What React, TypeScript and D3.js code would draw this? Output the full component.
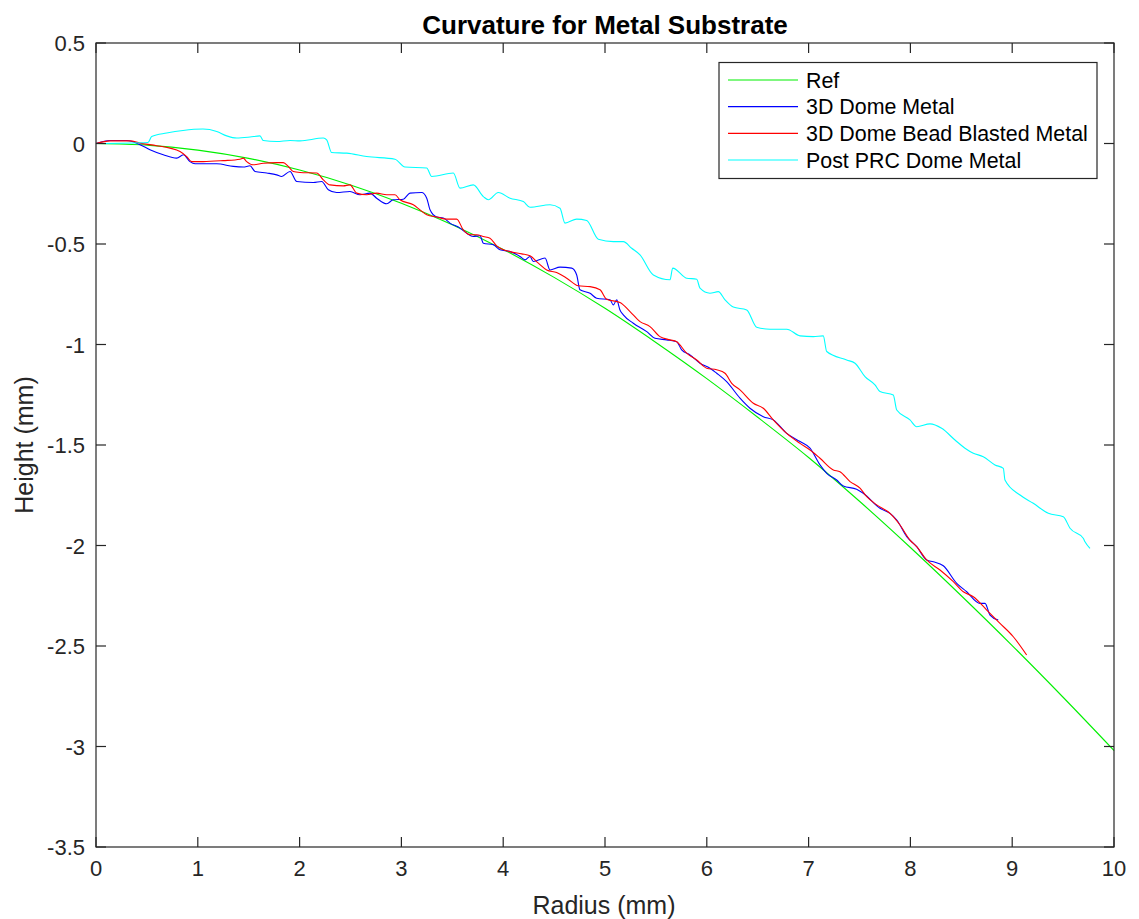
import React from "react";
import * as d3 from "d3";

const title = "Curvature for Metal Substrate";
const xLabel = "Radius (mm)";
const yLabel = "Height (mm)";
const xTicks = [0, 1, 2, 3, 4, 5, 6, 7, 8, 9, 10];
const yTicks = [0.5, 0, -0.5, -1, -1.5, -2, -2.5, -3, -3.5];
const seriesNames = ["Ref", "3D Dome Metal", "3D Dome Bead Blasted Metal", "Post PRC Dome Metal"];
const seriesColors = ["#00f000", "#0000ff", "#ff0000", "#00ffff"];

const refX = [0, 0.5, 1, 1.5, 2, 2.5, 3, 3.5, 4, 4.5, 5, 5.5, 6, 6.5, 7, 7.5, 8, 8.5, 9, 9.5, 10];
const refY = [0, -0.008, -0.033, -0.074, -0.132, -0.206, -0.297, -0.404, -0.527, -0.666, -0.82, -0.99, -1.17, -1.362, -1.562, -1.78, -2.01, -2.25, -2.498, -2.755, -3.02];

const blueX = [0, 0.138, 0.302, 0.432, 0.53, 0.661, 0.793, 0.858, 0.923, 0.973, 1.186, 1.349, 1.447, 1.513, 1.562, 1.677, 1.775, 1.824, 1.906, 1.972, 2.135, 2.217, 2.282, 2.364, 2.495, 2.593, 2.692, 2.757, 2.856, 2.92, 3.019, 3.084, 3.199, 3.249, 3.281, 3.347, 3.412, 3.477, 3.576, 3.641, 3.706, 3.772, 3.805, 3.903, 3.969, 4.067, 4.165, 4.214, 4.263, 4.296, 4.411, 4.46, 4.558, 4.673, 4.722, 4.754, 4.853, 4.918, 5.049, 5.082, 5.115, 5.147, 5.18, 5.278, 5.41, 5.491, 5.606, 5.704, 5.753, 5.835, 5.933, 6.031, 6.097, 6.195, 6.326, 6.424, 6.555, 6.653, 6.785, 6.916, 7.014, 7.112, 7.178, 7.276, 7.341, 7.472, 7.537, 7.701, 7.8, 7.866, 7.964, 8.062, 8.16, 8.225, 8.323, 8.455, 8.553, 8.684, 8.733, 8.782, 8.863];
const blueY = [0, 0.015, 0.015, -0.006, -0.031, -0.056, -0.073, -0.056, -0.09, -0.101, -0.101, -0.114, -0.117, -0.111, -0.139, -0.147, -0.156, -0.164, -0.139, -0.189, -0.194, -0.189, -0.23, -0.244, -0.239, -0.255, -0.247, -0.272, -0.3, -0.28, -0.277, -0.247, -0.244, -0.272, -0.33, -0.366, -0.371, -0.396, -0.421, -0.446, -0.463, -0.459, -0.496, -0.504, -0.529, -0.538, -0.562, -0.579, -0.562, -0.587, -0.57, -0.629, -0.615, -0.62, -0.654, -0.728, -0.745, -0.77, -0.778, -0.803, -0.778, -0.828, -0.853, -0.894, -0.936, -0.969, -0.977, -0.986, -1.027, -1.052, -1.093, -1.118, -1.143, -1.185, -1.267, -1.317, -1.359, -1.375, -1.442, -1.483, -1.516, -1.599, -1.641, -1.674, -1.704, -1.72, -1.74, -1.815, -1.84, -1.873, -1.956, -2.006, -2.072, -2.081, -2.101, -2.188, -2.23, -2.288, -2.288, -2.346, -2.371];

const redX = [0, 0.138, 0.334, 0.432, 0.596, 0.727, 0.825, 0.891, 0.94, 1.054, 1.25, 1.415, 1.447, 1.48, 1.545, 1.643, 1.775, 1.84, 1.889, 1.938, 2.004, 2.168, 2.233, 2.299, 2.429, 2.495, 2.561, 2.659, 2.757, 2.856, 2.937, 2.986, 3.117, 3.183, 3.249, 3.347, 3.445, 3.543, 3.608, 3.674, 3.74, 3.805, 3.87, 3.936, 4.067, 4.182, 4.263, 4.345, 4.427, 4.525, 4.624, 4.738, 4.853, 4.951, 5.016, 5.147, 5.246, 5.344, 5.442, 5.54, 5.639, 5.704, 5.802, 5.901, 5.999, 6.097, 6.179, 6.245, 6.326, 6.457, 6.555, 6.653, 6.785, 6.916, 7.014, 7.112, 7.243, 7.308, 7.407, 7.505, 7.571, 7.669, 7.8, 7.898, 7.996, 8.062, 8.16, 8.291, 8.422, 8.52, 8.618, 8.75, 8.88, 9.011, 9.142];
const redY = [0, 0.013, 0.013, 0.002, -0.011, -0.023, -0.04, -0.065, -0.09, -0.09, -0.085, -0.078, -0.073, -0.09, -0.106, -0.098, -0.095, -0.095, -0.114, -0.139, -0.144, -0.147, -0.181, -0.206, -0.211, -0.206, -0.247, -0.255, -0.247, -0.255, -0.255, -0.28, -0.305, -0.33, -0.355, -0.366, -0.376, -0.376, -0.43, -0.454, -0.454, -0.463, -0.471, -0.509, -0.538, -0.549, -0.559, -0.595, -0.629, -0.642, -0.67, -0.708, -0.712, -0.728, -0.775, -0.791, -0.836, -0.886, -0.911, -0.961, -0.977, -0.986, -1.043, -1.077, -1.118, -1.126, -1.143, -1.193, -1.226, -1.292, -1.317, -1.375, -1.442, -1.492, -1.525, -1.566, -1.624, -1.633, -1.682, -1.715, -1.757, -1.798, -1.84, -1.898, -1.973, -2.006, -2.072, -2.122, -2.18, -2.23, -2.255, -2.321, -2.387, -2.454, -2.545];

const cyanX = [0, 0.511, 0.547, 0.694, 0.855, 1.051, 1.186, 1.284, 1.382, 1.513, 1.611, 1.643, 1.775, 1.906, 2.004, 2.233, 2.266, 2.315, 2.463, 2.659, 2.937, 3.035, 3.248, 3.298, 3.51, 3.576, 3.706, 3.805, 3.854, 3.952, 4.067, 4.198, 4.263, 4.46, 4.558, 4.607, 4.722, 4.82, 4.934, 5.082, 5.18, 5.262, 5.344, 5.475, 5.639, 5.665, 5.802, 5.901, 5.933, 6.031, 6.113, 6.179, 6.26, 6.392, 6.49, 6.621, 6.785, 6.916, 7.046, 7.144, 7.178, 7.374, 7.456, 7.554, 7.652, 7.701, 7.832, 7.866, 7.996, 8.062, 8.193, 8.307, 8.438, 8.536, 8.618, 8.716, 8.831, 8.913, 8.929, 9.077, 9.207, 9.355, 9.502, 9.568, 9.698, 9.715, 9.764];
const cyanY = [0, 0.005, 0.035, 0.052, 0.065, 0.072, 0.06, 0.038, 0.027, 0.032, 0.038, 0.015, 0.01, 0.015, 0.013, 0.027, 0.018, -0.045, -0.048, -0.065, -0.078, -0.117, -0.122, -0.164, -0.147, -0.222, -0.206, -0.264, -0.28, -0.244, -0.272, -0.289, -0.317, -0.305, -0.322, -0.396, -0.376, -0.383, -0.476, -0.488, -0.488, -0.521, -0.554, -0.654, -0.678, -0.62, -0.67, -0.675, -0.72, -0.745, -0.737, -0.778, -0.814, -0.828, -0.914, -0.924, -0.924, -0.957, -0.961, -0.957, -1.035, -1.077, -1.093, -1.16, -1.201, -1.234, -1.251, -1.326, -1.375, -1.409, -1.395, -1.417, -1.475, -1.516, -1.541, -1.558, -1.599, -1.616, -1.674, -1.749, -1.79, -1.84, -1.857, -1.914, -1.964, -1.981, -2.014];

const W = 1139;
const H = 919;
const m = { left: 96, right: 1114, top: 43, bottom: 847 };
const FONT = "'Liberation Sans', Arial, Helvetica, sans-serif";
const AX = "#262626";

export default function App() {
  const x = d3.scaleLinear().domain([0, 10]).range([m.left, m.right]);
  const y = d3.scaleLinear().domain([-3.5, 0.5]).range([m.bottom, m.top]);
  const line = d3.line<[number, number]>().x((d) => x(d[0])).y((d) => y(d[1])).curve(d3.curveMonotoneX);
  const zipped = (xs: number[], ys: number[]) => xs.map((v, i) => [v, ys[i]] as [number, number]);
  const series = [
    zipped(refX, refY),
    zipped(blueX, blueY),
    zipped(redX, redY),
    zipped(cyanX, cyanY),
  ];
  const tl = 10;
  const lg = { x0: 719, y0: 62.5, x1: 1097, y1: 178.5 };
  const rowY = [80, 106.7, 133.3, 160];
  return (
    <svg width={W} height={H} style={{ position: "absolute", left: 0, top: 0, background: "#fff" }} fontFamily={FONT}>
      <rect x={0} y={0} width={W} height={H} fill="#fff" />
      {series.map((s, i) => (
        <path key={i} d={line(s) || ""} fill="none" stroke={seriesColors[i]} strokeWidth={1.1} strokeLinejoin="round" />
      ))}
      <rect x={m.left} y={m.top} width={m.right - m.left} height={m.bottom - m.top} fill="none" stroke={AX} strokeWidth={1.2} />
      {xTicks.map((t) => (
        <g key={"x" + t}>
          <line x1={x(t)} x2={x(t)} y1={m.bottom} y2={m.bottom - tl} stroke={AX} strokeWidth={1.2} />
          <line x1={x(t)} x2={x(t)} y1={m.top} y2={m.top + tl} stroke={AX} strokeWidth={1.2} />
          <text x={x(t)} y={876} textAnchor="middle" fontSize={22} fill={AX}>{t}</text>
        </g>
      ))}
      {yTicks.map((t) => (
        <g key={"y" + t}>
          <line x1={m.left} x2={m.left + tl} y1={y(t)} y2={y(t)} stroke={AX} strokeWidth={1.2} />
          <line x1={m.right} x2={m.right - tl} y1={y(t)} y2={y(t)} stroke={AX} strokeWidth={1.2} />
          <text x={85} y={y(t) + 8} textAnchor="end" fontSize={22} fill={AX}>{t}</text>
        </g>
      ))}
      <text x={605} y={34} textAnchor="middle" fontSize={26} fontWeight="bold" fill="#000">{title}</text>
      <text x={604} y={914} textAnchor="middle" fontSize={25} fill={AX}>{xLabel}</text>
      <text transform={`translate(33, ${(m.top + m.bottom) / 2}) rotate(-90)`} textAnchor="middle" fontSize={25} fill={AX}>{yLabel}</text>
      <rect x={lg.x0} y={lg.y0} width={lg.x1 - lg.x0} height={lg.y1 - lg.y0} fill="#fff" stroke={AX} strokeWidth={1.2} />
      {seriesNames.map((n, i) => (
        <g key={n}>
          <line x1={728} x2={798} y1={rowY[i]} y2={rowY[i]} stroke={seriesColors[i]} strokeWidth={1.2} />
          <text x={806} y={rowY[i] + 7.5} fontSize={21.4} fill="#000">{n}</text>
        </g>
      ))}
    </svg>
  );
}
